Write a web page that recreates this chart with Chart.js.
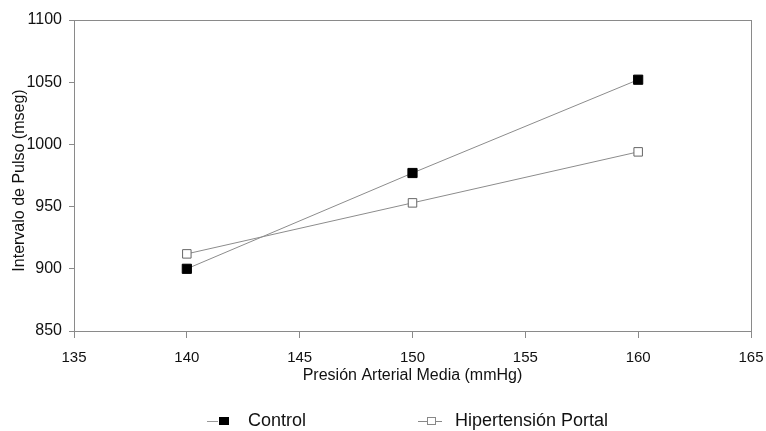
<!DOCTYPE html>
<html><head><meta charset="utf-8">
<script src="https://cdn.jsdelivr.net/npm/chart.js@4/dist/chart.umd.min.js"></script>
<style>html,body{margin:0;padding:0;background:#fff}#wrap{width:766px;height:431px}</style>
</head><body><div id="wrap"><canvas id="c" width="766" height="431"></canvas></div>
<script>
const presion = [140, 150, 160];
const control = [900, 977, 1052];
const hipertension = [912, 953, 994];
const seriesNames = ["Control", "Hipertensión Portal"];
const xTitle = "Presión Arterial Media (mmHg)";
const yTitle = "Intervalo de Pulso (mseg)";
const xTicks = [135, 140, 145, 150, 155, 160, 165];
const yTicks = [850, 900, 950, 1000, 1050, 1100];

const FONT = "'Liberation Sans', Arial, sans-serif";

const decor = {
  id: 'decor',
  beforeDatasetsDraw(chart) {
    const {ctx, chartArea: a} = chart;
    ctx.save();
    ctx.strokeStyle = '#8a8a8a';
    ctx.lineWidth = 1;
    ctx.strokeRect(a.left + 0.5, a.top + 0.5, a.right - a.left, a.bottom - a.top);
    ctx.restore();
  },
  afterDraw(chart) {
    const {ctx, chartArea: a} = chart;
    ctx.save();
    ctx.fillStyle = '#111';
    ctx.font = "16px " + FONT;
    ctx.textAlign = 'center';
    ctx.textBaseline = 'middle';
    ctx.fillText(xTitle, (a.left + a.right) / 2, a.bottom + 45);
    ctx.save();
    ctx.translate(20, (a.top + a.bottom) / 2 + 5);
    ctx.rotate(-Math.PI / 2);
    ctx.fillText(yTitle, 0, 0);
    ctx.restore();
    const ly = a.bottom + 90;
    ctx.font = "18px " + FONT;
    ctx.textAlign = 'left';
    ctx.strokeStyle = '#999';
    ctx.beginPath(); ctx.moveTo(207, ly + 0.5); ctx.lineTo(218, ly + 0.5); ctx.stroke();
    ctx.fillStyle = '#000';
    ctx.fillRect(219, ly - 4, 10, 8);
    ctx.fillStyle = '#111';
    ctx.fillText(seriesNames[0], 248, ly);
    ctx.strokeStyle = '#888';
    ctx.beginPath(); ctx.moveTo(418, ly + 0.5); ctx.lineTo(442, ly + 0.5); ctx.stroke();
    ctx.fillStyle = '#fff';
    ctx.fillRect(427, ly - 4, 9, 8);
    ctx.strokeRect(427.5, ly - 3.5, 8, 7);
    ctx.fillStyle = '#111';
    ctx.fillText(seriesNames[1], 455, ly);
    ctx.restore();
  }
};

new Chart(document.getElementById('c'), {
  type: 'line',
  data: {
    datasets: [
      {
        label: seriesNames[0],
        data: presion.map((x, i) => ({x, y: control[i]})),
        borderColor: '#8c8c8c', borderWidth: 1,
        pointStyle: 'rect', pointRadius: 6.5,
        pointBackgroundColor: '#000', pointBorderColor: '#000', pointBorderWidth: 1,
        fill: false, tension: 0
      },
      {
        label: seriesNames[1],
        data: presion.map((x, i) => ({x, y: hipertension[i]})),
        borderColor: '#8c8c8c', borderWidth: 1,
        pointStyle: 'rect', pointRadius: 6,
        pointBackgroundColor: '#fff', pointBorderColor: '#666', pointBorderWidth: 1,
        fill: false, tension: 0
      }
    ]
  },
  plugins: [decor],
  options: {
    responsive: false,
    animation: false,
    layout: {padding: {left: 0, top: 20, right: 15, bottom: 0}},
    plugins: {legend: {display: false}, tooltip: {enabled: false}},
    scales: {
      x: {
        type: 'linear', min: 135, max: 165,
        afterBuildTicks: s => { s.ticks = xTicks.map(v => ({value: v})); },
        afterFit: s => { s.height = 100; s.paddingLeft = 0; s.paddingRight = 0; },
        grid: {display: true, drawOnChartArea: false, drawTicks: true, tickLength: 7, color: '#8a8a8a'},
        border: {display: true, color: '#8a8a8a'},
        ticks: {padding: 11, color: '#111', font: {family: FONT, size: 15}, maxRotation: 0, autoSkip: false,
                callback: v => String(v)}
      },
      y: {
        min: 850, max: 1100,
        afterBuildTicks: s => { s.ticks = yTicks.map(v => ({value: v})); },
        afterFit: s => { s.width = 74; s.paddingTop = 0; s.paddingBottom = 0; },
        grid: {display: true, drawOnChartArea: false, drawTicks: true, tickLength: 5, color: '#8a8a8a'},
        border: {display: true, color: '#8a8a8a'},
        ticks: {padding: 7, color: '#111', font: {family: FONT, size: 16}, callback: v => String(v)}
      }
    }
  }
});
</script>
</body></html>
